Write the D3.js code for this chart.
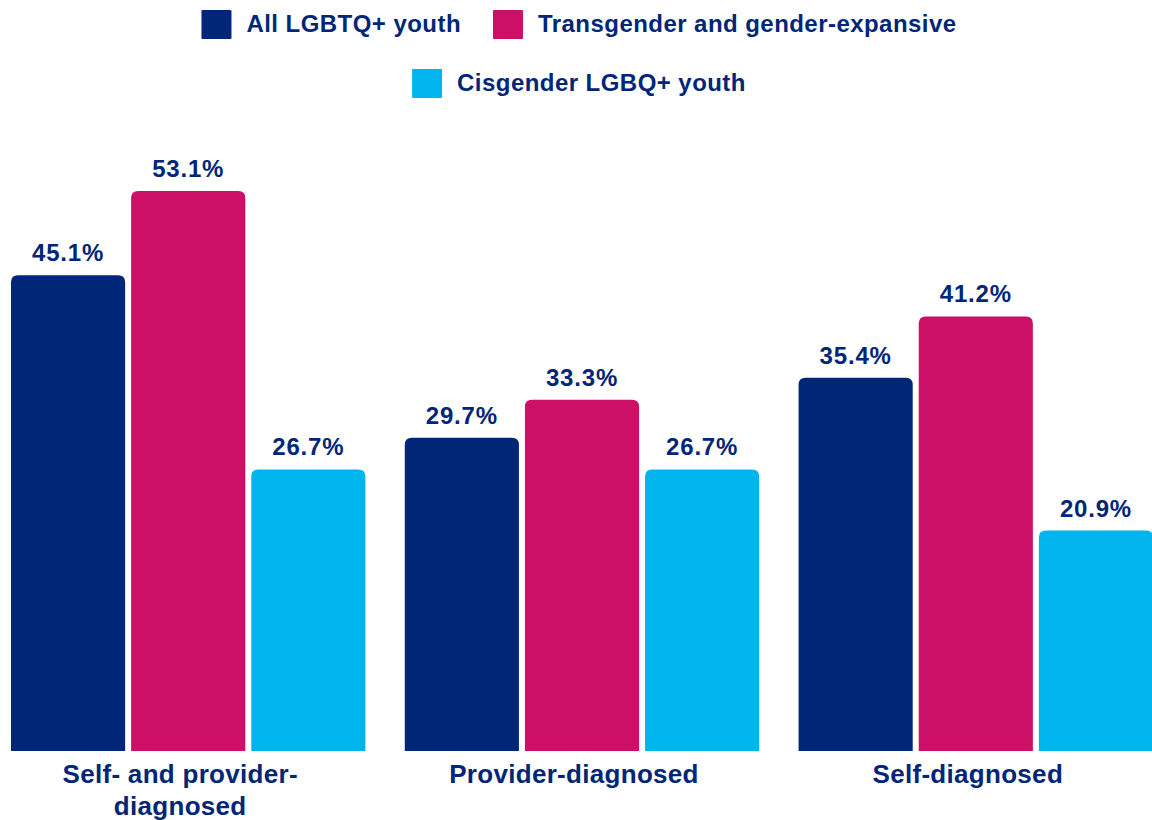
<!DOCTYPE html>
<html>
<head>
<meta charset="utf-8">
<script src="https://cdn.jsdelivr.net/npm/d3@7"></script>
<style>
	html, body { margin: 0; padding: 0; background: #fff; }
	svg { display: block; }
	text { font-family: "Liberation Sans", Arial, Helvetica, sans-serif; font-weight: bold; fill: #002677; }
</style>
</head>
<body>
<div id="chart"></div>
<script>
var d3 = window.d3;

// categories, series and values
var categories = [["Self- and provider-", "diagnosed"], ["Provider-diagnosed"], ["Self-diagnosed"]];
var series = ["All LGBTQ+ youth", "Transgender and gender-expansive", "Cisgender LGBQ+ youth"];
var allYouth = [45.1, 29.7, 35.4];
var transYouth = [53.1, 33.3, 41.2];
var cisYouth = [26.7, 26.7, 20.9];
var colors = ["#002677", "#CD1067", "#00B5EE"];

var values = [allYouth, transYouth, cisYouth];

var width = 1152, height = 820;
var baseline = 751;

var svg = d3.select("#chart")
	.append("svg")
		.attr("width", width)
		.attr("height", height);

// Set the ranges
var x0 = d3.scaleBand()
	.domain(d3.range(categories.length))
	.range([11, 1153])
	.paddingInner(0.1);

var x1 = d3.scaleBand()
	.domain(d3.range(series.length))
	.range([0, x0.bandwidth()])
	.paddingInner(0.05);

var y = d3.scaleLinear()
	.domain([0, d3.max(transYouth)])
	.range([baseline, 191]);

// bar with rounded top corners only
function topRounded(x, yTop, w, h, r) {
	r = Math.min(r, h, w / 2);
	return "M" + x + "," + (yTop + h) +
		"V" + (yTop + r) +
		"Q" + x + "," + yTop + " " + (x + r) + "," + yTop +
		"H" + (x + w - r) +
		"Q" + (x + w) + "," + yTop + " " + (x + w) + "," + (yTop + r) +
		"V" + (yTop + h) + "Z";
}

var rows = [];
categories.forEach(function(c, ci) {
	series.forEach(function(s, si) {
		rows.push({ cat: ci, ser: si, value: values[si][ci] });
	});
});

var groups = svg.selectAll("g.group")
	.data(categories)
	.enter().append("g")
		.attr("class", "group")
		.attr("transform", function(d, i) { return "translate(" + x0(i) + ",0)"; });

// Add the bars
groups.selectAll("path.bar")
	.data(function(d, ci) { return rows.filter(function(r) { return r.cat === ci; }); })
	.enter().append("path")
		.attr("class", "bar")
		.attr("fill", function(d) { return colors[d.ser]; })
		.attr("d", function(d) {
			return topRounded(x1(d.ser), y(d.value), x1.bandwidth(), baseline - y(d.value), 7);
		});

// value labels
groups.selectAll("text.value")
	.data(function(d, ci) { return rows.filter(function(r) { return r.cat === ci; }); })
	.enter().append("text")
		.attr("class", "value")
		.attr("x", function(d) { return x1(d.ser) + x1.bandwidth() / 2; })
		.attr("y", function(d) { return y(d.value) - 14; })
		.attr("text-anchor", "middle")
		.style("font-size", "24px")
		.style("letter-spacing", "0.8px")
		.text(function(d) { return d.value.toFixed(1) + "%"; });

// category labels (x axis, no line)
groups.append("text")
	.attr("class", "cat")
	.attr("x", x0.bandwidth() / 2 - 8)
	.attr("y", 783)
	.attr("text-anchor", "middle")
	.style("font-size", "26px")
	.style("letter-spacing", "0.3px")
	.selectAll("tspan")
	.data(function(d) { return d; })
	.enter().append("tspan")
		.attr("x", x0.bandwidth() / 2 - 8)
		.attr("dy", function(d, i) { return i === 0 ? 0 : 32; })
		.text(function(d) { return d; });

// Legend, two centred rows
var legendRows = [[0, 1], [2]];
var legendBase = [32, 91];
var legendCenter = 579;

legendRows.forEach(function(items, ri) {
	var g = svg.append("g").attr("class", "legend");
	var xPos = 0;
	items.forEach(function(si) {
		g.append("rect")
			.attr("x", xPos)
			.attr("y", legendBase[ri] - 22)
			.attr("width", 30)
			.attr("height", 29)
			.attr("rx", 1)
			.attr("fill", colors[si]);
		var t = g.append("text")
			.attr("x", xPos + 45)
			.attr("y", legendBase[ri])
			.style("font-size", "24px")
			.style("letter-spacing", "0.45px")
			.text(series[si]);
		xPos += 45 + t.node().getComputedTextLength() + 32;
	});
	var total = xPos - 32;
	g.attr("transform", "translate(" + (legendCenter - total / 2) + ",0)");
});
</script>
</body>
</html>
